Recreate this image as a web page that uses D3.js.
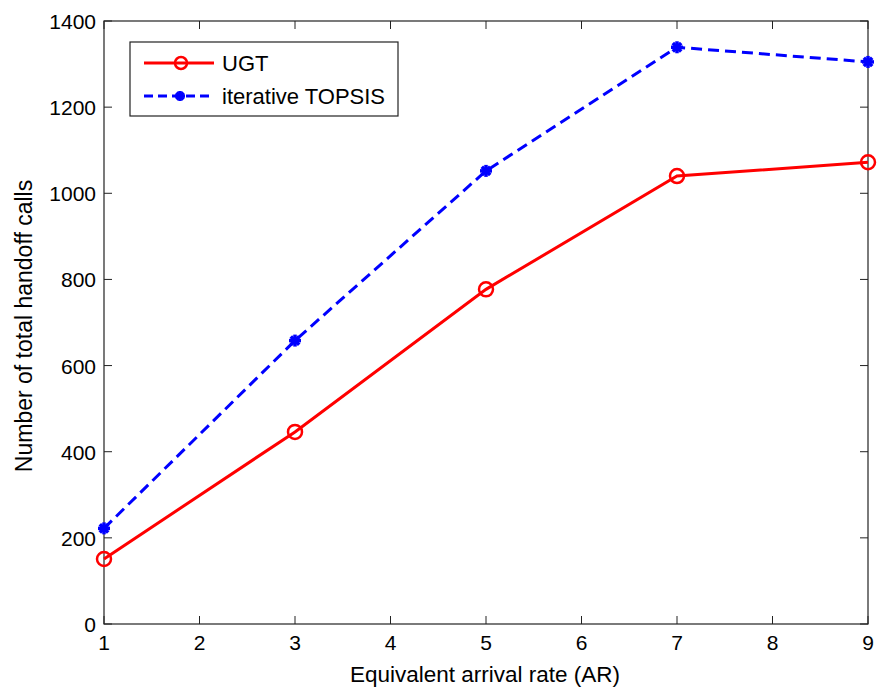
<!DOCTYPE html>
<html>
<head>
<meta charset="utf-8">
<script src="https://cdn.jsdelivr.net/npm/d3@7"></script>
<style>
  body { margin: 0; background: #fff; }
  text { font-family: "Liberation Sans", Arial, sans-serif; font-size: 21px; }
</style>
</head>
<body>
<script>
// data
var arrivalRate = [1, 3, 5, 7, 9];
var ugt = [151, 446, 777, 1040, 1072];
var topsis = [222, 658, 1052, 1339, 1305];
var xTicks = [1, 2, 3, 4, 5, 6, 7, 8, 9];
var yTicks = [0, 200, 400, 600, 800, 1000, 1200, 1400];

var W = 878, H = 691;
var pl = 104, pr = 868, pt = 21, pb = 624;

var svg = d3.select("body").append("svg")
    .attr("width", W).attr("height", H);

var x = d3.scaleLinear().domain([1, 9]).range([pl, pr]);
var y = d3.scaleLinear().domain([0, 1400]).range([pb, pt]);

// axes box
svg.append("rect")
  .attr("x", pl).attr("y", pt)
  .attr("width", pr - pl).attr("height", pb - pt)
  .attr("fill", "none").attr("stroke", "#222").attr("stroke-width", 1.2);

var tl = 8;
xTicks.forEach(function (t) {
  svg.append("line").attr("x1", x(t)).attr("x2", x(t))
    .attr("y1", pb).attr("y2", pb - tl).attr("stroke", "#222");
  svg.append("line").attr("x1", x(t)).attr("x2", x(t))
    .attr("y1", pt).attr("y2", pt + tl).attr("stroke", "#222");
  svg.append("text").text(t)
    .attr("x", x(t)).attr("y", pb + 26)
    .attr("text-anchor", "middle");
});
yTicks.forEach(function (t) {
  svg.append("line").attr("x1", pl).attr("x2", pl + tl)
    .attr("y1", y(t)).attr("y2", y(t)).attr("stroke", "#222");
  svg.append("line").attr("x1", pr).attr("x2", pr - tl)
    .attr("y1", y(t)).attr("y2", y(t)).attr("stroke", "#222");
  svg.append("text").text(t)
    .attr("x", pl - 8).attr("y", y(t) + 8)
    .attr("text-anchor", "end");
});

svg.append("text").text("Equivalent arrival rate (AR)")
  .attr("x", (pl + pr) / 2 - 1).attr("y", 682)
  .attr("text-anchor", "middle").style("font-size", "22.5px");
svg.append("text").text("Number of total handoff calls")
  .attr("transform", "translate(32,326) rotate(-90)")
  .attr("text-anchor", "middle").style("font-size", "23px");

var line = d3.line()
  .x(function (d, i) { return x(arrivalRate[i]); })
  .y(function (d) { return y(d); });

svg.append("path").datum(topsis).attr("d", line)
  .attr("fill", "none").attr("stroke", "#0000ff")
  .attr("stroke-width", 3).attr("stroke-dasharray", "11,6");
svg.append("path").datum(ugt).attr("d", line)
  .attr("fill", "none").attr("stroke", "#ff0000").attr("stroke-width", 3);

function star(g, cx, cy, s) {
  var gg = g.append("g").attr("stroke", "#0000ff").attr("stroke-width", 3.5);
  gg.append("line").attr("x1", cx - s).attr("x2", cx + s).attr("y1", cy).attr("y2", cy);
  gg.append("line").attr("x1", cx).attr("x2", cx).attr("y1", cy - s).attr("y2", cy + s);
  gg.append("line").attr("x1", cx - s * 0.7).attr("x2", cx + s * 0.7).attr("y1", cy - s * 0.7).attr("y2", cy + s * 0.7);
  gg.append("line").attr("x1", cx - s * 0.7).attr("x2", cx + s * 0.7).attr("y1", cy + s * 0.7).attr("y2", cy - s * 0.7);
}

topsis.forEach(function (d, i) { star(svg, x(arrivalRate[i]), y(d), 6); });
svg.selectAll("circle.ugt").data(ugt).enter().append("circle")
  .attr("class", "ugt")
  .attr("cx", function (d, i) { return x(arrivalRate[i]); })
  .attr("cy", function (d) { return y(d); })
  .attr("r", 7).attr("fill", "none")
  .attr("stroke", "#ff0000").attr("stroke-width", 2.5);

// legend
var lg = svg.append("g");
lg.append("rect").attr("x", 130).attr("y", 42).attr("width", 268).attr("height", 74)
  .attr("fill", "#fff").attr("stroke", "#222").attr("stroke-width", 1.2);
lg.append("line").attr("x1", 144).attr("x2", 214).attr("y1", 63).attr("y2", 63)
  .attr("stroke", "#ff0000").attr("stroke-width", 3);
lg.append("circle").attr("cx", 181).attr("cy", 63).attr("r", 6)
  .attr("fill", "none").attr("stroke", "#ff0000").attr("stroke-width", 2.5);
lg.append("text").text("UGT").attr("x", 222).attr("y", 71).style("font-size", "22px");
lg.append("line").attr("x1", 144).attr("x2", 214).attr("y1", 96).attr("y2", 96)
  .attr("stroke", "#0000ff").attr("stroke-width", 3).attr("stroke-dasharray", "9,5");
star(lg, 180, 96, 5);
lg.append("text").text("iterative TOPSIS").attr("x", 222).attr("y", 104).style("font-size", "22px");
</script>
</body>
</html>
